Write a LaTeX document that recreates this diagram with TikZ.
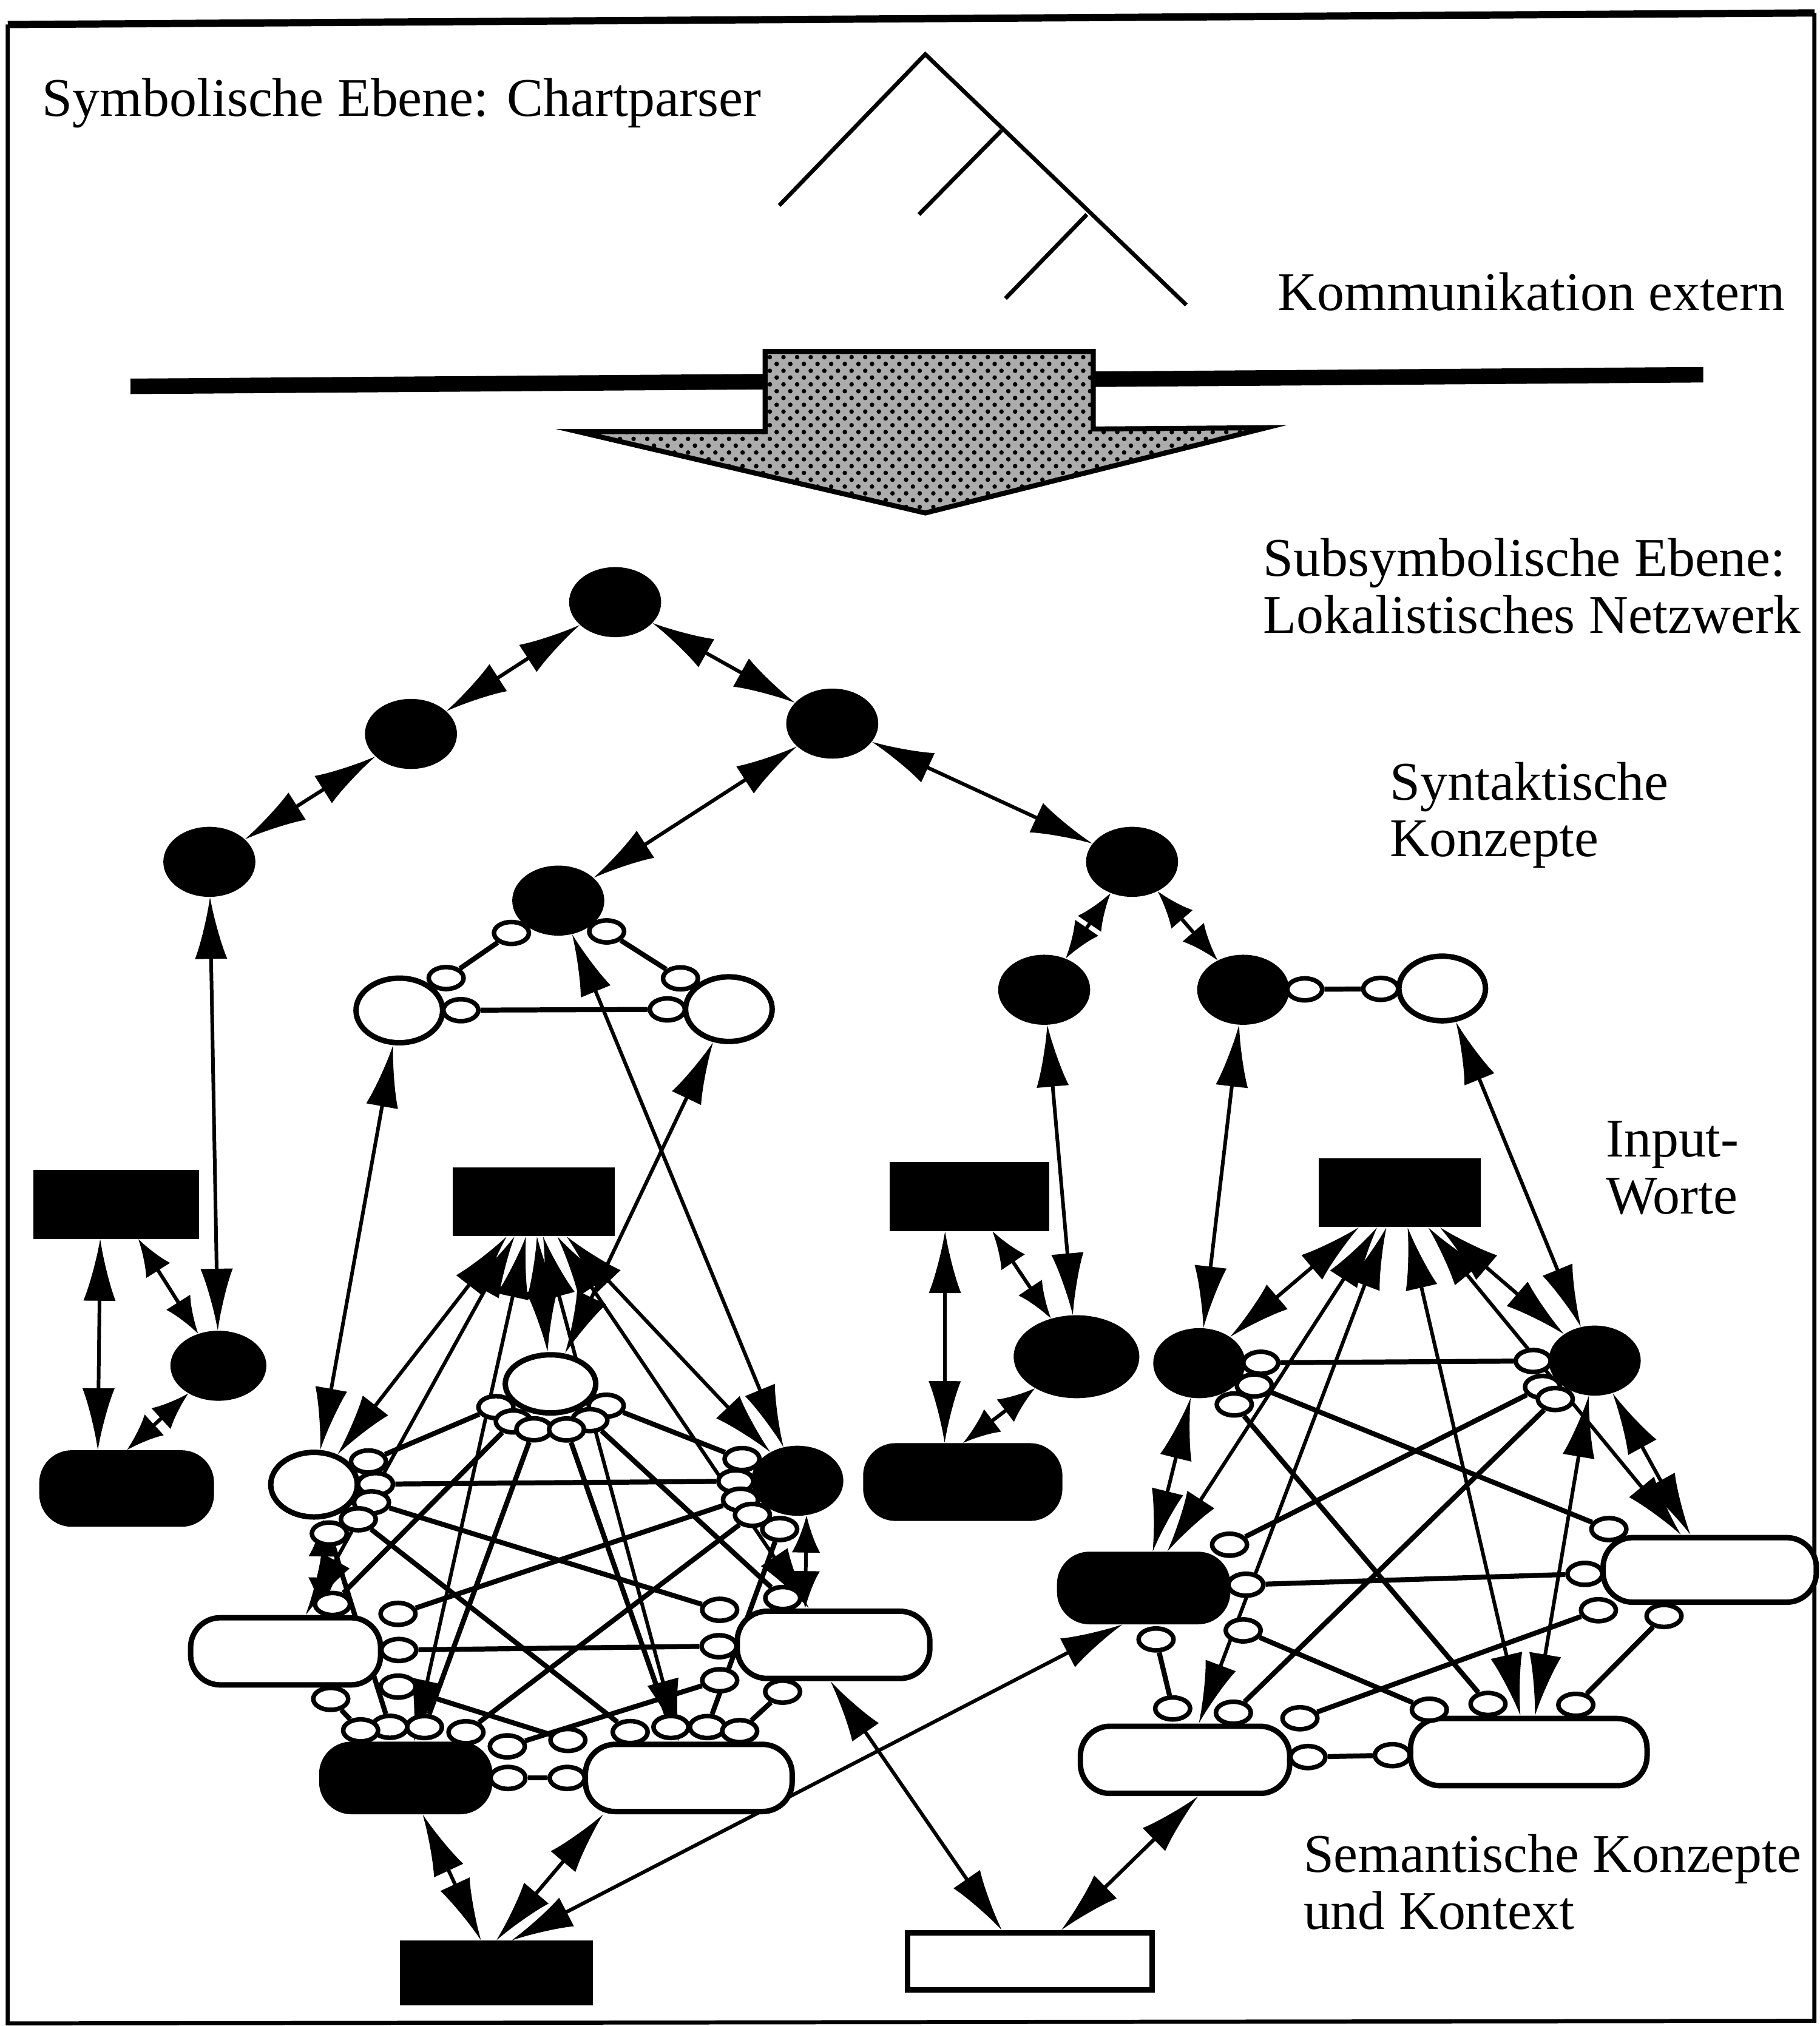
\documentclass[tikz,border=0pt]{standalone}
\usepackage{fontspec}
\setmainfont{Liberation Serif}
\usetikzlibrary{shapes.geometric,arrows.meta,calc,patterns}
\pgfdeclarelayer{bg}
\pgfdeclarelayer{paper}
\pgfsetlayers{paper,bg,main}

% small link ellipses at both ends of a mesh line
\newcommand\meshlink[2]{%
  \path (#1) -- (#2) coordinate[pos=0] (ma) coordinate[pos=1] (mb);
  \node[link] (#1#2a) at ($(ma)!1.2mm!(mb)$) {};
  \node[link] (#1#2b) at ($(mb)!1.2mm!(ma)$) {};
  \begin{pgfonlayer}{bg}
    \draw[mesh] (#1#2a) -- (#1#2b);
  \end{pgfonlayer}
}

\tikzset{
  every node/.style={inner sep=0pt},
  conc/.style={ellipse,draw,line width=1.2pt,minimum width=6.7mm,minimum height=5mm},
  bconc/.style={conc,fill=black},
  wconc/.style={conc,fill=white},
  pill/.style={rectangle,rounded corners=2.3mm,draw,line width=1.2pt,minimum height=5.2mm},
  word/.style={rectangle,draw,fill=black,minimum width=12.4mm,minimum height=5.2mm},
  link/.style={ellipse,draw,fill=white,line width=1pt,minimum width=2.7mm,minimum height=1.7mm},
  dbl/.style={{Latex[length=4.8mm,width=2.5mm]}-{Latex[length=4.8mm,width=2.5mm]},line width=0.8pt},
  kite/.style={{Latex[length=2.9mm,width=2.2mm]}-{Latex[length=2.9mm,width=2.2mm]},line width=0.8pt},
  mesh/.style={line width=1.1pt},
  lbl/.style={font=\fontsize{12}{12.5}\selectfont,align=left}
}

\begin{document}
\begin{tikzpicture}[x=0.1mm,y=-0.1mm]
 \begin{pgfonlayer}{paper}
 \fill[white] (0,0) rectangle (1408,1568);
 \end{pgfonlayer}
 \useasboundingbox (0,0) rectangle (1408,1568);
 % frame
 \draw[line width=1.6pt] (6,19) -- (1404,10);
 \draw[line width=0.9pt] (6,19) -- (6,1566) -- (1404,1564) -- (1404,10);

 % symbolic level: chart tree
 \draw[line width=0.9pt] (603,159) -- (716,42) -- (918,236);
 \draw[line width=0.9pt] (775,101) -- (711,166);
 \draw[line width=0.9pt] (841,166) -- (778,231);

 % border between levels and the hatched arrow
 \draw[line width=1.2mm] (101,299) -- (1318,290);
 \draw[line width=1.1pt,preaction={fill=gray!65},pattern=crosshatch dots]
   (592,272) -- (846,272) -- (846,332) -- (980,331) -- (716,397)
   -- (447,334) -- (592,334) -- cycle;

 % labels
 \node[lbl,anchor=base west] (tsym) at (32,90) {Symbolische Ebene: Chartparser};
 \node[lbl,anchor=base west] (tkom) at (988,240) {Kommunikation extern};
 \node[lbl,anchor=north west] (tsub) at (977,416) {Subsymbolische Ebene:\\Lokalistisches Netzwerk};
 \node[lbl,anchor=north west] (tsyn) at (1075,589) {Syntaktische\\Konzepte};
 \node[lbl,anchor=north west] (tinp) at (1242,867) {Input-\\Worte};
 \node[lbl,anchor=north west] (tsem) at (1008,1419) {Semantische Konzepte\\und Kontext};

 % syntactic concepts
 \node[bconc] (S0) at (476,466) {};
 \node[bconc] (S1) at (318,568) {};
 \node[bconc] (S2) at (162,667) {};
 \node[bconc] (S3) at (644,560) {};
 \node[bconc] (S4) at (432,697) {};
 \node[bconc] (S5) at (876,667) {};
 \node[bconc] (S6) at (808,766) {};
 \node[bconc] (S7) at (962,766) {};
 \node[wconc] (W1) at (309,782) {};
 \node[wconc] (W2) at (564,781) {};
 \node[wconc] (W3) at (1116,765) {};

 % input words
 \node[word,minimum width=12.7mm] (I1) at (90,932) {};
 \node[word] (I2) at (413,930) {};
 \node[word,minimum width=12.2mm] (I3) at (750,926) {};
 \node[word] (I4) at (1083,923) {};

 % semantic concepts
 \node[bconc,minimum width=7mm] (B1) at (169,1057) {};
 \node[pill,fill=black,minimum width=13.1mm,minimum height=5.5mm] (R1) at (98,1152) {};
 \node[bconc,minimum width=9.3mm,minimum height=6mm] (B3) at (833,1050) {};
 \node[pill,fill=black,minimum width=15mm,minimum height=5.6mm] (R3) at (745,1147) {};

 \node[wconc,minimum width=7mm,minimum height=4.5mm] (W4) at (426,1071) {};
 \node[wconc] (W5) at (243,1149) {};
 \node[bconc] (B6) at (617,1146) {};
 \node[pill,fill=white,minimum width=14.7mm] (R8) at (221,1278) {};
 \node[pill,fill=white,minimum width=14.9mm] (R9) at (645,1273) {};
 \node[pill,fill=black,minimum width=13mm] (R10) at (314,1376) {};
 \node[pill,fill=white,minimum width=16mm] (R11) at (533,1376) {};

 \node[bconc] (B4) at (928,1055) {};
 \node[bconc] (B5) at (1234,1053) {};
 \node[pill,fill=black,minimum width=13mm] (R4) at (885,1229) {};
 \node[pill,fill=white,minimum width=16.5mm,minimum height=5mm] (R5) at (1323,1215) {};
 \node[pill,fill=white,minimum width=16.2mm] (R6) at (917,1362) {};
 \node[pill,fill=white,minimum width=18.3mm] (R7) at (1183,1356) {};

 % context
 \node[word,minimum width=14.8mm,minimum height=4.9mm] (K1) at (384,1527) {};
 \node[rectangle,draw,line width=1.2pt,fill=white,minimum width=18.9mm,minimum height=4.4mm] (K2) at (797,1518) {};

 % inhibitory links
 \foreach \a/\b in {S4/W1,S4/W2,W1/W2,S7/W3} \meshlink{\a}{\b};
 \foreach \a/\b in {W4/W5,W4/B6,W4/R8,W4/R9,W4/R10,W4/R11,W5/B6,W5/R9,W5/R10,W5/R11,
   B6/R8,B6/R10,B6/R11,R8/R9,R8/R10,R8/R11,R9/R10,R9/R11,R10/R11} \meshlink{\a}{\b};
 \foreach \a/\b in {B4/B5,B4/R5,B4/R7,R4/B5,R4/R5,R4/R6,R4/R7,R6/B5,R6/R5,R6/R7,R7/R5}
   \meshlink{\a}{\b};

 % excitatory connections
 \begin{pgfonlayer}{bg}
 \foreach \a/\b in {S0/S1,S1/S2,S0/S3,S3/S4,S3/S5,S2/B1,S6/B3,
   W1/W5,W2/W4,S4/B6,S7/B4,W3/B5,B4/R4,B5/R5,B5/R7}
   \draw[dbl] (\a) -- (\b);
 \foreach \a/\b in {S5/S6,S5/S7,I1/B1,I3/B3}
   \draw[kite] (\a) -- (\b);
 \draw[kite] (B1) -- (R1.north);
 \draw[kite] (B3) -- (R3.north);
 \draw[dbl] (I1.245) -- (R1.127);
 \draw[dbl] (I3.235) -- (R3.115);
 \draw[kite] (W5.285) -- (R8.45);
 \draw[kite] (B6.285) -- (R9.128);
 \foreach \t in {W5,R8,R10,W4,R11,R9,B6} \draw[dbl] (I2) -- (\t);
 \foreach \t in {B4,R4,R6,R7,R5,B5} \draw[dbl] (I4) -- (\t);
 \draw[dbl] (R10) -- (K1.115);
 \draw[dbl] (R11.203) -- (K1.north);
 \draw[dbl] (K1.65) -- (R4.240);
 \draw[dbl] (R9.265) -- (K2.132);
 \draw[dbl] (R6.290) -- (K2.45);
 \end{pgfonlayer}
\end{tikzpicture}
\end{document}
